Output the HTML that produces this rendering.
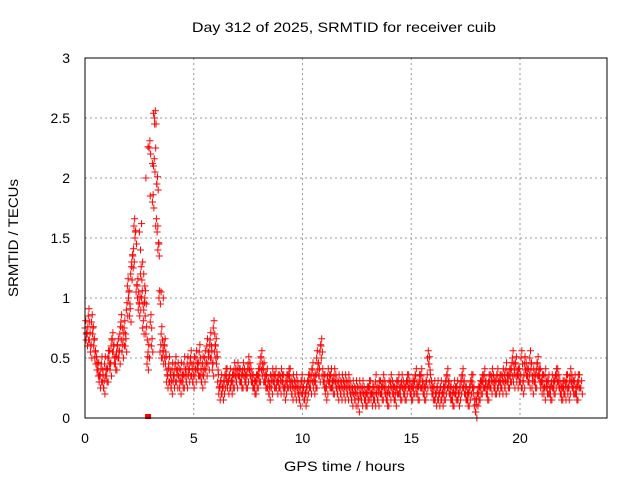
<!DOCTYPE html>
<html><head><meta charset="utf-8"><style>
body{margin:0;background:#fff}
svg{font-family:"Liberation Sans",sans-serif;font-size:14px}
</style></head><body>
<svg id="c" width="640" height="480">
<text x="192" y="32" textLength="304" lengthAdjust="spacingAndGlyphs">Day 312 of 2025, SRMTID for receiver cuib</text>
<text x="284" y="471" textLength="121" lengthAdjust="spacingAndGlyphs">GPS time / hours</text>
<text transform="translate(18,297) rotate(-90)" textLength="118" lengthAdjust="spacingAndGlyphs">SRMTID / TECUs</text>
<g id="grid"></g><g id="marks"></g>
<rect x="85" y="58" width="522" height="360" fill="none" stroke="#000"/>
</svg>
<script>
const xTicks=[0,5,10,15,20];
const yTicks=[0,0.5,1,1.5,2,2.5,3];
const yTickLabels=["0","0.5","1","1.5","2","2.5","3"];
const stepHours=0.1;
const seriesA=[0.75,0.7,0.65,0.8,0.6,0.45,0.4,0.35,0.3,0.45,0.35,0.5,0.6,0.55,0.45,0.6,0.7,0.55,0.75,0.9,1.0,1.2,1.35,1.5,1.1,0.95,1.0,0.9,0.7,0.55,0.8,1.8,2.5,1.95,1.0,0.7,0.55,0.45,0.35,0.3,0.4,0.35,0.3,0.35,0.4,0.3,0.35,0.45,0.4,0.35,0.45,0.5,0.4,0.35,0.45,0.5,0.6,0.55,0.5,0.75,0.6,0.3,0.25,0.2,0.3,0.35,0.3,0.25,0.3,0.35,0.4,0.35,0.3,0.35,0.3,0.45,0.35,0.3,0.25,0.3,0.35,0.5,0.4,0.3,0.25,0.3,0.35,0.3,0.25,0.3,0.35,0.3,0.25,0.3,0.35,0.2,0.25,0.3,0.2,0.25,0.2,0.15,0.25,0.3,0.35,0.25,0.3,0.4,0.55,0.35,0.3,0.25,0.3,0.35,0.25,0.3,0.2,0.25,0.3,0.2,0.25,0.3,0.2,0.25,0.15,0.2,0.25,0.15,0.2,0.15,0.2,0.25,0.2,0.15,0.2,0.25,0.2,0.3,0.2,0.15,0.2,0.25,0.2,0.25,0.3,0.2,0.25,0.2,0.3,0.25,0.2,0.25,0.35,0.2,0.3,0.25,0.2,0.3,0.45,0.25,0.2,0.15,0.25,0.2,0.15,0.2,0.3,0.25,0.2,0.15,0.2,0.25,0.2,0.3,0.25,0.2,0.15,0.25,0.3,0.1,0.15,0.2,0.25,0.3,0.25,0.2,0.3,0.35,0.25,0.3,0.25,0.3,0.35,0.25,0.3,0.35,0.4,0.3,0.45,0.35,0.3,0.25,0.45,0.35,0.3,0.4,0.35,0.3,0.45,0.35,0.3,0.2,0.25,0.3,0.2,0.25,0.3,0.35,0.25,0.2,0.25,0.3,0.2,0.35,0.25,0.3,0.2,0.3,0.25];
const seriesB=[0.65,0.85,0.55,0.7,0.5,0.4,0.3,0.45,0.25,0.35,0.5,0.4,0.65,0.45,0.55,0.5,0.8,0.65,0.6,1.1,0.85,1.3,1.6,1.05,0.9,1.2,0.75,1.0,0.45,2.25,0.6,2.1,1.6,1.4,0.55,0.5,0.6,0.3,0.45,0.25,0.3,0.45,0.4,0.25,0.3,0.45,0.3,0.35,0.5,0.3,0.35,0.4,0.55,0.3,0.35,0.4,0.45,0.65,0.4,0.55,0.45,0.2,0.3,0.25,0.35,0.25,0.35,0.3,0.4,0.3,0.35,0.3,0.4,0.3,0.35,0.4,0.3,0.25,0.3,0.35,0.45,0.35,0.3,0.35,0.2,0.25,0.3,0.35,0.3,0.25,0.3,0.2,0.3,0.35,0.25,0.3,0.2,0.25,0.15,0.3,0.25,0.2,0.3,0.25,0.4,0.3,0.5,0.35,0.6,0.3,0.2,0.35,0.3,0.25,0.35,0.25,0.3,0.2,0.25,0.3,0.2,0.25,0.15,0.2,0.25,0.1,0.2,0.25,0.15,0.2,0.25,0.15,0.2,0.3,0.15,0.25,0.2,0.25,0.15,0.25,0.3,0.2,0.15,0.25,0.2,0.3,0.2,0.25,0.3,0.2,0.25,0.3,0.2,0.3,0.35,0.2,0.25,0.5,0.3,0.2,0.25,0.2,0.15,0.25,0.2,0.25,0.35,0.2,0.15,0.25,0.2,0.15,0.25,0.35,0.2,0.15,0.2,0.3,0.2,0.05,0.2,0.25,0.3,0.35,0.2,0.3,0.25,0.3,0.25,0.35,0.3,0.25,0.3,0.4,0.3,0.35,0.5,0.4,0.3,0.35,0.5,0.3,0.4,0.35,0.5,0.25,0.3,0.4,0.35,0.25,0.3,0.35,0.25,0.2,0.3,0.25,0.35,0.3,0.2,0.25,0.2,0.3,0.25,0.3,0.25,0.2,0.3];
const spikeTimes=[2.5,2.6,2.7,2.8,2.9,3.0,3.1,3.15,3.2,3.25,3.3,3.35,3.4,3.5,3.6,2.55,2.65,2.75];
const spikeValues=[1.55,1.62,1.2,2.0,2.26,1.85,2.12,2.54,2.45,2.25,1.95,1.6,1.45,1.05,1.0,1.4,1.3,1.1];
const ns="http://www.w3.org/2000/svg";
const xs=h=>85+h*522/24, ys=v=>418-v*120;
const grid=document.getElementById('grid'), marks=document.getElementById('marks'), svg=document.getElementById('c');
function mk(t,a,p){const e=document.createElementNS(ns,t);for(const k in a)e.setAttribute(k,a[k]);p.appendChild(e);return e;}
xTicks.forEach(t=>{const x=xs(t);
 if(t>0){const g=mk('line',{x1:x,x2:x,y1:58,y2:418,stroke:'#999','stroke-dasharray':'2,3'},grid);
 
 }
 const l=mk('text',{x:x,y:443,'text-anchor':'middle'},svg);l.textContent=t;
 
 });
yTicks.forEach((t,i)=>{const y=ys(t);
 if(t>0&&t<3){const g=mk('line',{x1:85,x2:607,y1:y,y2:y,stroke:'#999','stroke-dasharray':'2,3'},grid);
 
 }
 const l=mk('text',{x:70,y:y+5,'text-anchor':'end'},svg);l.textContent=yTickLabels[i];
 
 });
function plus(h,v,col){const x=xs(h),y=ys(v);
 const p=mk('path',{d:`M${x-3.5},${y}h7M${x},${y-3.5}v7`,stroke:col,'stroke-width':1,fill:'none'},marks);
 
 }
function cluster(h,v){plus(h,v,'#f00');plus(h+0.033,v+0.06,'#f00');plus(h+0.066,v-0.05,'#f00');}
seriesA.forEach((v,i)=>cluster(i*stepHours,v));
seriesB.forEach((v,i)=>cluster(i*stepHours+0.05,v));
spikeTimes.forEach((t,i)=>plus(t,spikeValues[i],'#f00'));
const z=mk('rect',{x:xs(2.9)-3,y:414,width:6,height:5,fill:'#f00'},marks);


</script>
</body></html>
